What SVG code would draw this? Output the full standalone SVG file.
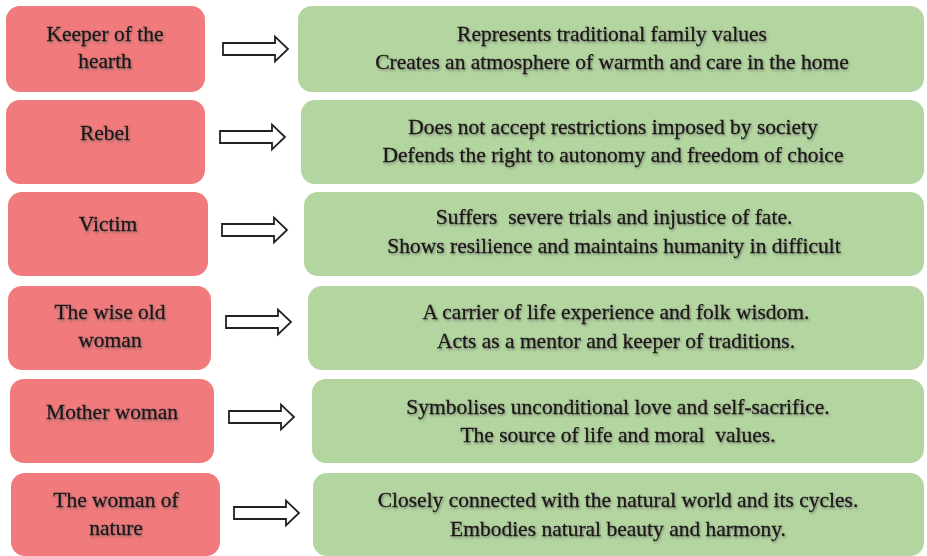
<svg xmlns="http://www.w3.org/2000/svg" width="927" height="556" viewBox="0 0 927 556">
<defs>
<filter id="sh" x="-5%" y="-20%" width="110%" height="150%">
<feDropShadow dx="1" dy="1.5" stdDeviation="1" flood-color="#555" flood-opacity="0.6"/>
</filter>
<path id="arr" d="M0,-6 H52 V-12.5 L65,0 L52,12.5 V6 H0 Z"/>
</defs>
<style>
.l{fill:#f07a7c;}
.r{fill:#b3d5a0;}
text{font-family:"Liberation Serif","Times New Roman",serif;font-size:21.5px;fill:#1c1414;stroke:#1c1414;stroke-width:0.3;text-anchor:middle;filter:url(#sh);}
.a{fill:#fff;stroke:#222;stroke-width:1.8;}
</style>
<rect width="927" height="556" fill="#fff"/>
<g id="n1">
<rect class="l" x="6" y="6" width="199" height="86" rx="14"/>
<text x="105" y="41">Keeper of the</text>
<text x="105" y="68">hearth</text>
</g>
<g id="d1">
<rect class="r" x="298" y="6" width="626" height="86" rx="14"/>
<text x="612" y="41">Represents traditional family values</text>
<text x="612" y="69">Creates an atmosphere of warmth and care in the home</text>
</g>
<g id="n2">
<rect class="l" x="6" y="100" width="199" height="84" rx="14"/>
<text x="105" y="140">Rebel</text>
</g>
<g id="d2">
<rect class="r" x="301" y="100" width="623" height="84" rx="14"/>
<text x="613" y="134">Does not accept restrictions imposed by society</text>
<text x="613" y="162">Defends the right to autonomy and freedom of choice</text>
</g>
<g id="n3">
<rect class="l" x="8" y="192" width="200" height="84" rx="14"/>
<text x="108" y="231">Victim</text>
</g>
<g id="d3">
<rect class="r" x="304" y="192" width="620" height="84" rx="14"/>
<text x="614" y="224" xml:space="preserve">Suffers  severe trials and injustice of fate.</text>
<text x="614" y="253">Shows resilience and maintains humanity in difficult</text>
</g>
<g id="n4">
<rect class="l" x="8" y="286" width="203" height="84" rx="14"/>
<text x="110" y="319">The wise old</text>
<text x="110" y="347">woman</text>
</g>
<g id="d4">
<rect class="r" x="308" y="286" width="616" height="84" rx="14"/>
<text x="616" y="319">A carrier of life experience and folk wisdom.</text>
<text x="616" y="348">Acts as a mentor and keeper of traditions.</text>
</g>
<g id="n5">
<rect class="l" x="10" y="379" width="204" height="84" rx="14"/>
<text x="112" y="419">Mother woman</text>
</g>
<g id="d5">
<rect class="r" x="312" y="379" width="612" height="84" rx="14"/>
<text x="618" y="414">Symbolises unconditional love and self-sacrifice.</text>
<text x="618" y="442" xml:space="preserve">The source of life and moral  values.</text>
</g>
<g id="n6">
<rect class="l" x="11" y="473" width="209" height="83" rx="14"/>
<text x="116" y="507">The woman of</text>
<text x="116" y="535">nature</text>
</g>
<g id="d6">
<rect class="r" x="313" y="473" width="611" height="83" rx="14"/>
<text x="618" y="507">Closely connected with the natural world and its cycles.</text>
<text x="618" y="536">Embodies natural beauty and harmony.</text>
</g>
<g id="connectors">
<use href="#arr" class="a" x="223" y="49"/>
<use href="#arr" class="a" x="220" y="137"/>
<use href="#arr" class="a" x="222" y="230"/>
<use href="#arr" class="a" x="226" y="322"/>
<use href="#arr" class="a" x="229" y="417"/>
<use href="#arr" class="a" x="234" y="513"/>
</g>
</svg>
